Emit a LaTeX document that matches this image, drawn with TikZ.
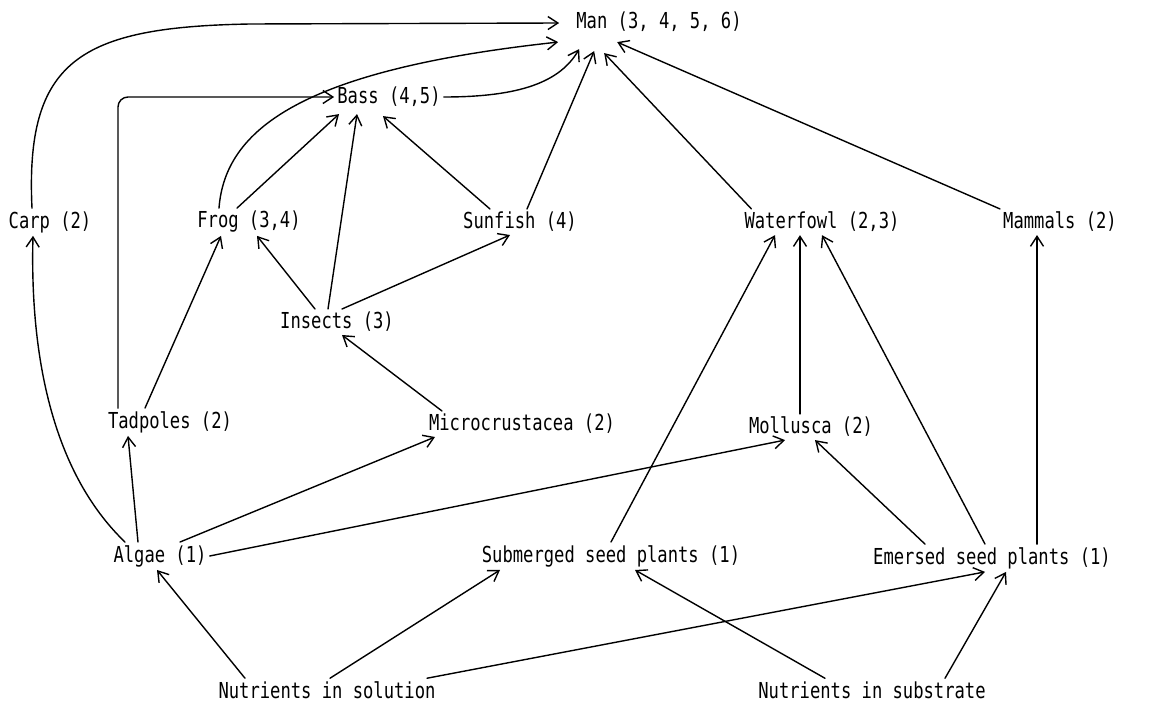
\documentclass[tikz,border=0pt]{standalone}
\usepackage{fontspec}
\newfontfamily\lblfont[FakeStretch=0.78]{DejaVu Sans Mono}
\usetikzlibrary{arrows.meta}
\begin{document}
\begin{tikzpicture}[x=1pt,y=-1pt,
  taxon/.style={font=\lblfont\fontsize{22}{24}\selectfont, inner sep=3pt},
  feeds/.style={line width=1.4pt, line cap=round,
    -{Straight Barb[length=10pt,width=13pt,line width=1.4pt]}}]
\fill[white] (0,0) rectangle (1164,706);
\useasboundingbox (0,0) rectangle (1164,706);

% trophic levels, top consumer first
\node[taxon] (man)       at (659,22)  {Man (3, 4, 5, 6)};
\node[taxon] (bass)      at (389,97)  {Bass (4,5)};
\node[taxon] (carp)      at (50,222)  {Carp (2)};
\node[taxon] (frog)      at (249,222) {Frog (3,4)};
\node[taxon] (sunfish)   at (520,222) {Sunfish (4)};
\node[taxon] (waterfowl) at (822,222) {Waterfowl (2,3)};
\node[taxon] (mammals)   at (1060,222){Mammals (2)};
\node[taxon] (insects)   at (337,322) {Insects (3)};
\node[taxon] (tadpoles)  at (170,422) {Tadpoles (2)};
\node[taxon] (micro)     at (522,424) {Microcrustacea (2)};
\node[taxon] (mollusca)  at (811,427) {Mollusca (2)};
\node[taxon] (algae)     at (160,556) {Algae (1)};
\node[taxon] (submerged) at (611,556) {Submerged seed plants (1)};
\node[taxon] (emersed)   at (992,558) {Emersed seed plants (1)};
\node[taxon] (nsol)      at (327,690) {Nutrients in solution};
\node[taxon] (nsub)      at (872,690) {Nutrients in substrate};

% into Man
\draw[feeds] ([xshift=-18pt]carp.north) .. controls (25,60) and (80,27) .. (250,24)
  -- ([shift={(-14,1)}]man.west);
\draw[feeds] ([xshift=-30pt]frog.north) .. controls (225,130) and (300,70)
  .. ([shift={(-15,7)}]man.south west);
\draw[feeds] (bass.east) .. controls (520,97) and (560,82) .. ([shift={(6,14)}]man.south west);
\draw[feeds] ([xshift=7pt]sunfish.north) -- ([shift={(21,16)}]man.south west);
\draw[feeds] ([xshift=10pt]waterfowl.north west) -- ([shift={(31,18)}]man.south west);
\draw[feeds] (mammals.north west) -- ([shift={(44,7)}]man.south west);

% into Bass
\draw[feeds, rounded corners=10pt] ([xshift=-52pt]tadpoles.north) |- (bass.west);
\draw[feeds] ([xshift=-12pt]frog.north) -- ([shift={(-50,4)}]bass.south);
\draw[feeds] ([xshift=-9pt]insects.north) -- ([shift={(-32,4)}]bass.south);
\draw[feeds] ([xshift=-30pt]sunfish.north) -- ([shift={(-6,6)}]bass.south);

% second level
\draw[feeds] ([xshift=-22pt]insects.north) -- ([xshift=8pt]frog.south);
\draw[feeds] ([xshift=5pt]insects.north) -- ([xshift=-10pt]sunfish.south);
\draw[feeds] ([xshift=-25pt]tadpoles.north) -- ([xshift=-28pt]frog.south);
\draw[feeds] ([xshift=-80pt]micro.north) -- ([xshift=5pt]insects.south);
\draw[feeds] ([xshift=-35pt]algae.north) .. controls (50,470) and (30,350) .. ([xshift=-17pt]carp.south);
\draw[feeds] ([xshift=-22pt]algae.north) -- ([xshift=-42pt]tadpoles.south);
\draw[feeds] ([xshift=20pt]algae.north) -- ([xshift=-87pt]micro.south);
\draw[feeds] (algae.east) -- ([xshift=-26pt]mollusca.south);

% into Waterfowl and Mammals
\draw[feeds] (submerged.north) -- ([xshift=-47pt]waterfowl.south);
\draw[feeds] ([xshift=-11pt]mollusca.north) -- ([xshift=-22pt]waterfowl.south);
\draw[feeds] ([xshift=-7pt]emersed.north) -- ([xshift=0pt]waterfowl.south);
\draw[feeds] ([xshift=45pt]emersed.north) -- ([xshift=-23pt]mammals.south);
\draw[feeds] ([xshift=-67pt]emersed.north) -- ([xshift=4pt]mollusca.south);

% nutrients
\draw[feeds] ([xshift=-82pt]nsol.north) -- ([xshift=-3pt]algae.south);
\draw[feeds] ([xshift=3pt]nsol.north) -- ([xshift=-111pt]submerged.south);
\draw[feeds] ([xshift=100pt]nsol.north) -- ([xshift=-7pt]emersed.south);
\draw[feeds] ([xshift=-47pt]nsub.north) -- ([xshift=24pt]submerged.south);
\draw[feeds] ([xshift=73pt]nsub.north) -- ([xshift=14pt]emersed.south);
\end{tikzpicture}
\end{document}
